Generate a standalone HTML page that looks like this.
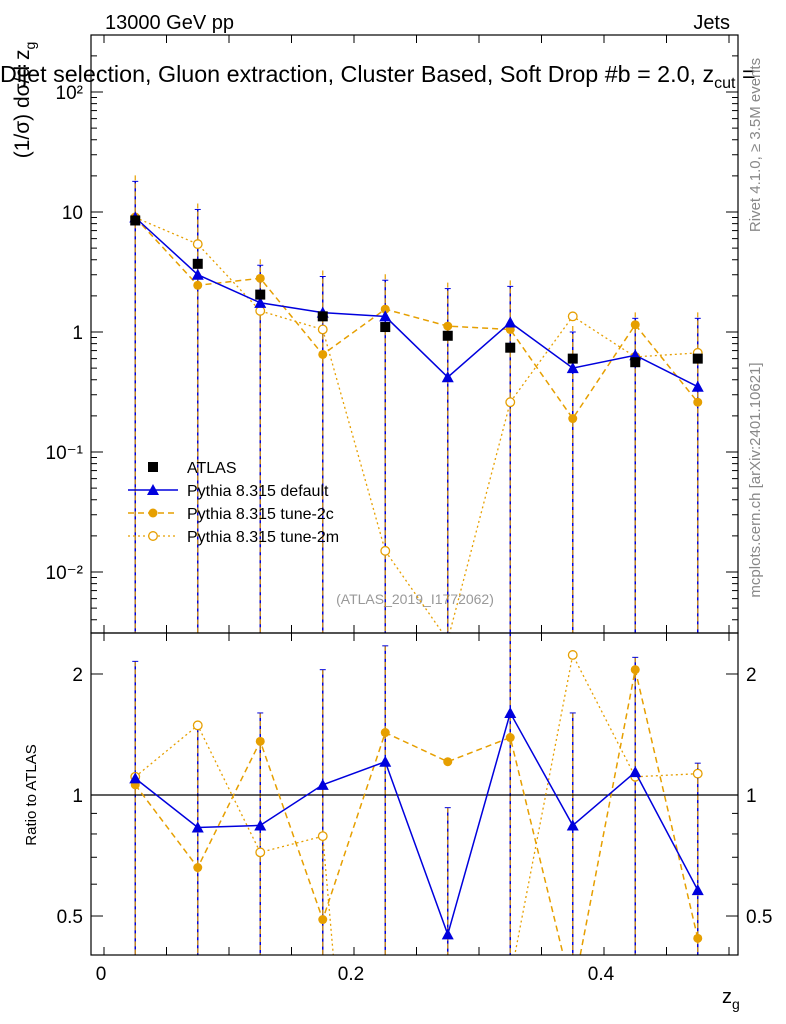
<!DOCTYPE html>
<html><head><meta charset="utf-8"><style>
html,body{margin:0;padding:0;background:#fff;width:786px;height:1024px;overflow:hidden;}
svg{display:block;font-family:"Liberation Sans",sans-serif;}
</style></head><body>
<svg id="c" width="786" height="1024" viewBox="0 0 786 1024">
<defs id="defs"></defs>
<text x="105" y="29" font-size="20">13000 GeV pp</text>
<text x="730" y="29" font-size="20" text-anchor="end">Jets</text>
<text transform="translate(29,100) rotate(-90)" font-size="21" text-anchor="middle">(1/σ) dσ/d z<tspan font-size="14" dy="6">g</tspan></text>
<text x="0" y="82" font-size="23.3">Dijet selection, Gluon extraction, Cluster Based, Soft Drop #b = 2.0, z<tspan font-size="16" dy="6">cut</tspan><tspan dy="-6"> = </tspan></text>
<text transform="translate(760,145) rotate(-90)" font-size="15" fill="#888" text-anchor="middle">Rivet 4.1.0, ≥ 3.5M events</text>
<text transform="translate(760,480) rotate(-90)" font-size="15" fill="#888" text-anchor="middle">mcplots.cern.ch [arXiv:2401.10621]</text>
<text x="415" y="604" font-size="14" fill="#999" text-anchor="middle">(ATLAS_2019_I1772062)</text>
<text transform="translate(36,795) rotate(-90)" font-size="15" text-anchor="middle">Ratio to ATLAS</text>
<text x="722" y="1003" font-size="20">z<tspan font-size="14" dy="6">g</tspan></text>
<g id="main"></g><g id="ratio"></g>
</svg>
<script>
const xCenters=[0.025,0.075,0.125,0.175,0.225,0.275,0.325,0.375,0.425,0.475];
const atlas=[8.5,3.7,2.05,1.35,1.1,0.93,0.74,0.6,0.56,0.6];
const atlasUp=[18,10.5,3.6,2.9,2.7,2.3,2.4,1.0,1.3,1.3];
const pyDef=[9,3.0,1.75,1.45,1.35,0.42,1.2,0.5,0.64,0.35];
const py2c=[9,2.45,2.8,0.65,1.55,1.12,1.05,0.19,1.15,0.26];
const py2m=[9,5.4,1.5,1.05,0.015,0.0027,0.26,1.35,0.62,0.67];
const rDef=[1.1,0.83,0.84,1.06,1.21,0.45,1.6,0.84,1.14,0.58];
const r2c=[1.06,0.66,1.36,0.49,1.43,1.21,1.39,0.32,2.05,0.44];
const r2m=[1.11,1.49,0.72,0.79,0.014,0.003,0.35,2.23,1.11,1.13];
const rUpDef=[2.15,1.5,1.6,2.05,2.35,0.93,2.6,1.6,2.2,1.2];
const xTicks=[0,0.2,0.4];
const mainTicks=[0.01,0.1,1,10,100];
const mainTickLabels=["10⁻²","10⁻¹","1","10","10²"];
const ratioTicks=[0.5,1,2];

const NS="http://www.w3.org/2000/svg";
const L=91,R=738,T=35,MB=633,RB=955;
const X=v=>104+v*1250;
const YM=v=>332-120*Math.log10(v);
const YR=v=>795-402*Math.log10(v);
function el(p,tag,a){const e=document.createElementNS(NS,tag);for(const k in a)e.setAttribute(k,a[k]);p.appendChild(e);return e;}
const main=document.getElementById('main'),ratio=document.getElementById('ratio');
const defs=document.getElementById('defs');
function clip(id,y0,y1){const d=el(defs,'clipPath',{id:id});el(d,'rect',{x:L,y:y0,width:R-L,height:y1-y0});}
clip('cm',T,MB);clip('cr',MB,RB);
const gm=el(main,'g',{'clip-path':'url(#cm)'});
const gr=el(ratio,'g',{'clip-path':'url(#cr)'});
const orange='#e69f00',blue='#0000dd';
function series(g,vals,Y,style,name,marker){
 let pts=vals.map((v,i)=>X(xCenters[i])+','+Y(Math.max(v,1e-6)).toFixed(1)).join(' ');
 const pl=el(g,'polyline',Object.assign({points:pts,fill:'none'},style));
 
 vals.forEach((v,i)=>{const x=X(xCenters[i]),y=Y(Math.max(v,1e-6));let m;
  if(marker==='tri')m=el(g,'polygon',{points:`${x},${y-6} ${x-6},${y+5} ${x+6},${y+5}`,fill:blue});
  else if(marker==='dot')m=el(g,'circle',{cx:x,cy:y,r:4.5,fill:orange});
  else m=el(g,'circle',{cx:x,cy:y,r:4.3,fill:'#fff',stroke:orange,'stroke-width':1.3});
  });
}
xCenters.forEach((c,i)=>{const x=X(c);
 const e1=el(gm,'line',{x1:x,x2:x,y1:YM(atlasUp[i]),y2:MB,stroke:blue,'stroke-width':1.5});
 
 el(gm,'line',{x1:x,x2:x,y1:YM(atlasUp[i])-6,y2:MB,stroke:orange,'stroke-width':1.2,'stroke-dasharray':'5,3'});
 el(gm,'line',{x1:x-3,x2:x+3,y1:YM(atlasUp[i]),y2:YM(atlasUp[i]),stroke:blue});
 const e2=el(gr,'line',{x1:x,x2:x,y1:YR(rUpDef[i]),y2:RB,stroke:blue,'stroke-width':1.5});
 
 el(gr,'line',{x1:x,x2:x,y1:YR(rUpDef[i]),y2:RB,stroke:orange,'stroke-width':1.2,'stroke-dasharray':'5,3'});
 el(gr,'line',{x1:x-3,x2:x+3,y1:YR(rUpDef[i]),y2:YR(rUpDef[i]),stroke:blue});
});
series(gm,py2m,YM,{stroke:orange,'stroke-width':1.3,'stroke-dasharray':'2,3'},'tune-2m','ring');
series(gm,py2c,YM,{stroke:orange,'stroke-width':1.5,'stroke-dasharray':'6,4'},'tune-2c','dot');
series(gm,pyDef,YM,{stroke:blue,'stroke-width':1.5},'default','tri');
atlas.forEach((v,i)=>{const r=el(gm,'rect',{x:X(xCenters[i])-5,y:YM(v)-5,width:10,height:10,fill:'#000'});
 });
el(gr,'line',{x1:L,x2:R,y1:YR(1),y2:YR(1),stroke:'#000','stroke-width':1.2});
series(gr,r2m,YR,{stroke:orange,'stroke-width':1.3,'stroke-dasharray':'2,3'},'ratio-tune-2m','ring');
series(gr,r2c,YR,{stroke:orange,'stroke-width':1.5,'stroke-dasharray':'6,4'},'ratio-tune-2c','dot');
series(gr,rDef,YR,{stroke:blue,'stroke-width':1.5},'ratio-default','tri');
el(main,'rect',{x:L,y:T,width:R-L,height:MB-T,fill:'none',stroke:'#000','stroke-width':1.2});
el(ratio,'rect',{x:L,y:MB,width:R-L,height:RB-MB,fill:'none',stroke:'#000','stroke-width':1.2});
for(let d=-3;d<=2;d++)for(let k=1;k<10;k++){const v=k*Math.pow(10,d),y=YM(v);if(y<T||y>MB)continue;
 const len=k===1?12:6;el(main,'line',{x1:L,x2:L+len,y1:y,y2:y,stroke:'#000'});el(main,'line',{x1:R-len,x2:R,y1:y,y2:y,stroke:'#000'});}
mainTicks.forEach((v,i)=>{const t=el(main,'text',{x:L-8,y:YM(v)+7,'font-size':19,'text-anchor':'end'});t.textContent=mainTickLabels[i];
 });
[0.5,0.6,0.7,0.8,0.9,1,2].forEach(v=>{const y=YR(v),len=(v===0.5||v===1||v===2)?12:6;
 el(ratio,'line',{x1:L,x2:L+len,y1:y,y2:y,stroke:'#000'});el(ratio,'line',{x1:R-len,x2:R,y1:y,y2:y,stroke:'#000'});});
ratioTicks.forEach(v=>{const a=el(ratio,'text',{x:L-8,y:YR(v)+7,'font-size':19,'text-anchor':'end'});a.textContent=v;
 
 const b=el(ratio,'text',{x:R+8,y:YR(v)+7,'font-size':19});b.textContent=v;
 });
for(let k=0;k<=10;k++){const x=X(k*0.05);if(x<L||x>R)continue;const len=8;
 el(main,'line',{x1:x,x2:x,y1:MB-len,y2:MB,stroke:'#000'});el(main,'line',{x1:x,x2:x,y1:T,y2:T+len,stroke:'#000'});
 el(ratio,'line',{x1:x,x2:x,y1:RB-len,y2:RB,stroke:'#000'});el(ratio,'line',{x1:x,x2:x,y1:MB,y2:MB+len,stroke:'#000'});}
xTicks.forEach(v=>{const t=el(ratio,'text',{x:X(v)-3,y:980,'font-size':19,'text-anchor':'middle'});t.textContent=v;
 });
const leg=el(main,'g',{});
const items=[['ATLAS','sq'],['Pythia 8.315 default','tri'],['Pythia 8.315 tune-2c','dot'],['Pythia 8.315 tune-2m','ring']];
items.forEach((it,i)=>{const y=467+i*23,x=153;
 if(it[1]==='sq')el(leg,'rect',{x:x-5,y:y-5,width:10,height:10,fill:'#000'});
 if(it[1]==='tri'){el(leg,'line',{x1:128,x2:178,y1:y,y2:y,stroke:blue,'stroke-width':1.5});el(leg,'polygon',{points:`${x},${y-6} ${x-6},${y+5} ${x+6},${y+5}`,fill:blue});}
 if(it[1]==='dot'){el(leg,'line',{x1:128,x2:178,y1:y,y2:y,stroke:orange,'stroke-width':1.5,'stroke-dasharray':'6,4'});el(leg,'circle',{cx:x,cy:y,r:4.5,fill:orange});}
 if(it[1]==='ring'){el(leg,'line',{x1:128,x2:178,y1:y,y2:y,stroke:orange,'stroke-width':1.3,'stroke-dasharray':'2,3'});el(leg,'circle',{cx:x,cy:y,r:4.3,fill:'#fff',stroke:orange,'stroke-width':1.3});}
 const t=el(leg,'text',{x:187,y:y+6,'font-size':16});t.textContent=it[0];
 });
</script>
</body></html>
